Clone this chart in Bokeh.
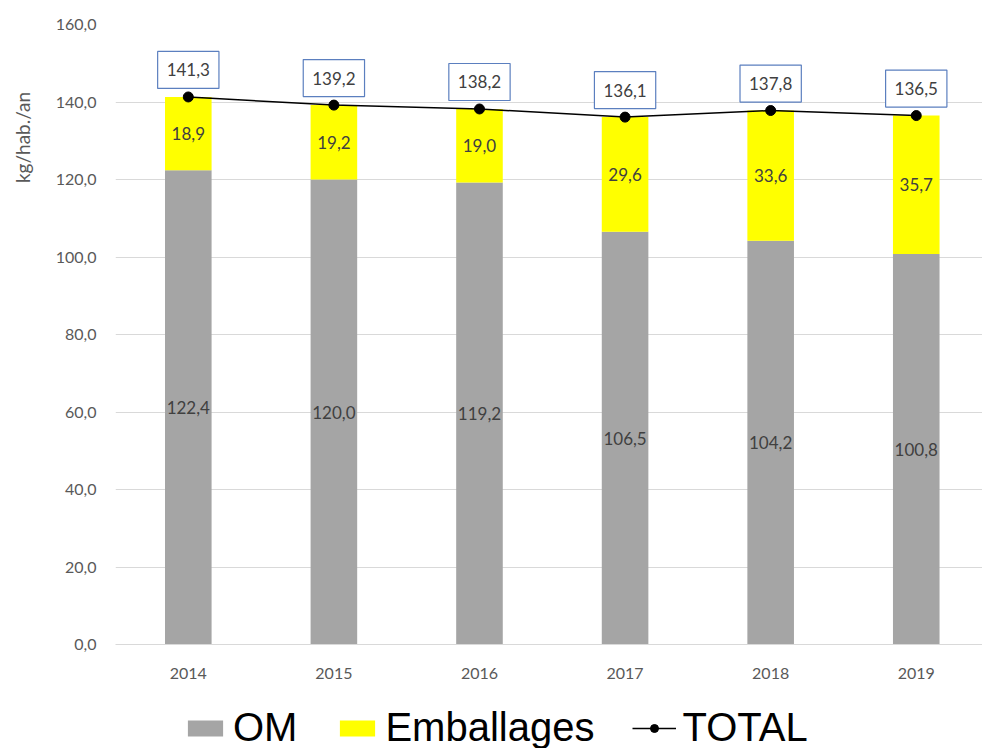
from bokeh.plotting import figure
from bokeh.layouts import column, row
from bokeh.models import (ColumnDataSource, Range1d, FixedTicker, LabelSet, Label,
                          Legend, LegendItem, CustomJSTickFormatter)
from bokeh.embed import file_html
from bokeh.resources import INLINE
from bokeh.core.properties import value
import math

years = [2014, 2015, 2016, 2017, 2018, 2019]
om = [122.4, 120.0, 119.2, 106.5, 104.2, 100.8]
emballages = [18.9, 19.2, 19.0, 29.6, 33.6, 35.7]
total = [141.3, 139.2, 138.2, 136.1, 137.8, 136.5]
y_ticks = [0, 20, 40, 60, 80, 100, 120, 140, 160]
y_label = "kg/hab./an"
series_names = ["OM", "Emballages", "TOTAL"]

OM_COLOR = "#a5a5a5"
EMB_COLOR = "#ffff00"
FONT = "Lato"
GRAY_TXT = "#595959"
LBL_TXT = "#404040"


def fr(v):
    return f"{v:.1f}".replace(".", ",")


src = ColumnDataSource(dict(
    year=years,
    base=[0] * len(years),
    om=om,
    emb_top=[a + b for a, b in zip(om, emballages)],
    om_mid=[a / 2 for a in om],
    emb_mid=[a + b / 2 for a, b in zip(om, emballages)],
    total=total,
    om_lbl=[fr(v) for v in om],
    emb_lbl=[fr(v) for v in emballages],
))

# ---------------- main chart ----------------
p = figure(width=942, height=700, output_backend="svg", toolbar_location=None,
           x_range=Range1d(2013.5, 2019.455), y_range=Range1d(0, 160),
           min_border_left=75, min_border_right=0, min_border_top=24,
           min_border_bottom=56)
p.outline_line_color = None

p.vbar(x="year", width=0.32, bottom="base", top="om", source=src,
       fill_color=OM_COLOR, line_color=None)
p.vbar(x="year", width=0.32, bottom="om", top="emb_top", source=src,
       fill_color=EMB_COLOR, line_color=None)
p.line(x="year", y="total", source=src, line_color="black", line_width=1.5)
p.scatter(x="year", y="total", source=src, size=10, fill_color="black",
          line_color="black")

p.add_layout(LabelSet(x="year", y="om_mid", text="om_lbl", source=src,
                      text_align="center", text_baseline="middle",
                      text_font=value(FONT), text_font_size="17px",
                      text_color=LBL_TXT))
p.add_layout(LabelSet(x="year", y="emb_mid", text="emb_lbl", source=src,
                      text_align="center", text_baseline="middle",
                      text_font=value(FONT), text_font_size="17px",
                      text_color=LBL_TXT))

for yr, t in zip(years, total):
    p.add_layout(Label(x=yr, y=t, y_offset=27, text=fr(t), text_align="center",
                       text_baseline="middle", text_font=FONT,
                       text_font_size="17px", text_color=LBL_TXT,
                       background_fill_color="white",
                       border_line_color="#5b7fbf", border_line_width=1.2,
                       padding=dict(left=9, right=9, top=12, bottom=12)))

p.xgrid.grid_line_color = None
p.ygrid.grid_line_color = "#d9d9d9"
p.ygrid.ticker = FixedTicker(ticks=y_ticks)

p.yaxis.ticker = FixedTicker(ticks=y_ticks)
p.yaxis.formatter = CustomJSTickFormatter(code="return tick.toFixed(1).replace('.', ',');")
p.yaxis.axis_line_color = None
p.yaxis.major_tick_line_color = None
p.yaxis.minor_tick_line_color = None
p.yaxis.major_tick_out = 0
p.yaxis.major_tick_in = 0
p.yaxis.major_label_standoff = 19
p.yaxis.major_label_text_font = FONT
p.yaxis.major_label_text_font_size = "16px"
p.yaxis.major_label_text_color = GRAY_TXT

p.xaxis.ticker = FixedTicker(ticks=years)
p.xaxis.axis_line_color = "#d9d9d9"
p.xaxis.major_tick_line_color = None
p.xaxis.minor_tick_line_color = None
p.xaxis.major_tick_out = 0
p.xaxis.major_tick_in = 0
p.xaxis.major_label_standoff = 23
p.xaxis.major_label_text_font = FONT
p.xaxis.major_label_text_font_size = "16px"
p.xaxis.major_label_text_color = GRAY_TXT

# ---------------- y-axis title strip ----------------
yl = figure(width=40, height=700, output_backend="svg", toolbar_location=None,
            x_range=Range1d(0, 1), y_range=Range1d(0, 1),
            x_axis_type=None, y_axis_type=None, min_border=0)
yl.outline_line_color = None
yl.grid.grid_line_color = None
yl.add_layout(Label(x=22, y=507, x_units="screen", y_units="screen", text=y_label,
                    angle=math.pi / 2, text_align="center", text_baseline="middle",
                    text_font=FONT, text_font_size="19px", text_color=GRAY_TXT))

# ---------------- legend strip ----------------
lg = figure(width=982, height=48, output_backend="svg", toolbar_location=None,
            x_range=Range1d(0, 1), y_range=Range1d(0, 1),
            x_axis_type=None, y_axis_type=None, min_border=0)
lg.outline_line_color = None
lg.grid.grid_line_color = None
# legend proxies: one point each, outside the visible range of this strip
g_om = lg.vbar(x=[-5], top=[-5], width=0.1, fill_color=OM_COLOR, line_color=None)
g_emb = lg.vbar(x=[-5], top=[-5], width=0.1, fill_color=EMB_COLOR, line_color=None)
g_line = lg.line(x=[-5, -4], y=[-5, -5], line_color="black", line_width=1.5)
g_pts = lg.scatter(x=[-5], y=[-5], size=9, fill_color="black", line_color="black")

legend = Legend(items=[
    LegendItem(label=series_names[0], renderers=[g_om]),
    LegendItem(label=series_names[1], renderers=[g_emb]),
    LegendItem(label=series_names[2], renderers=[g_line, g_pts]),
], orientation="horizontal", location=(183, -2),
    label_text_font="Liberation Sans", label_text_font_size="40px",
    label_text_color="black",
    glyph_width=44, glyph_height=20, label_standoff=6, spacing=38,
    padding=0, margin=0, border_line_color=None, background_fill_alpha=0)
lg.add_layout(legend, "center")

layout = column(row(yl, p, spacing=0), lg, spacing=0)
open("out.html", "w").write(file_html(layout, INLINE))
